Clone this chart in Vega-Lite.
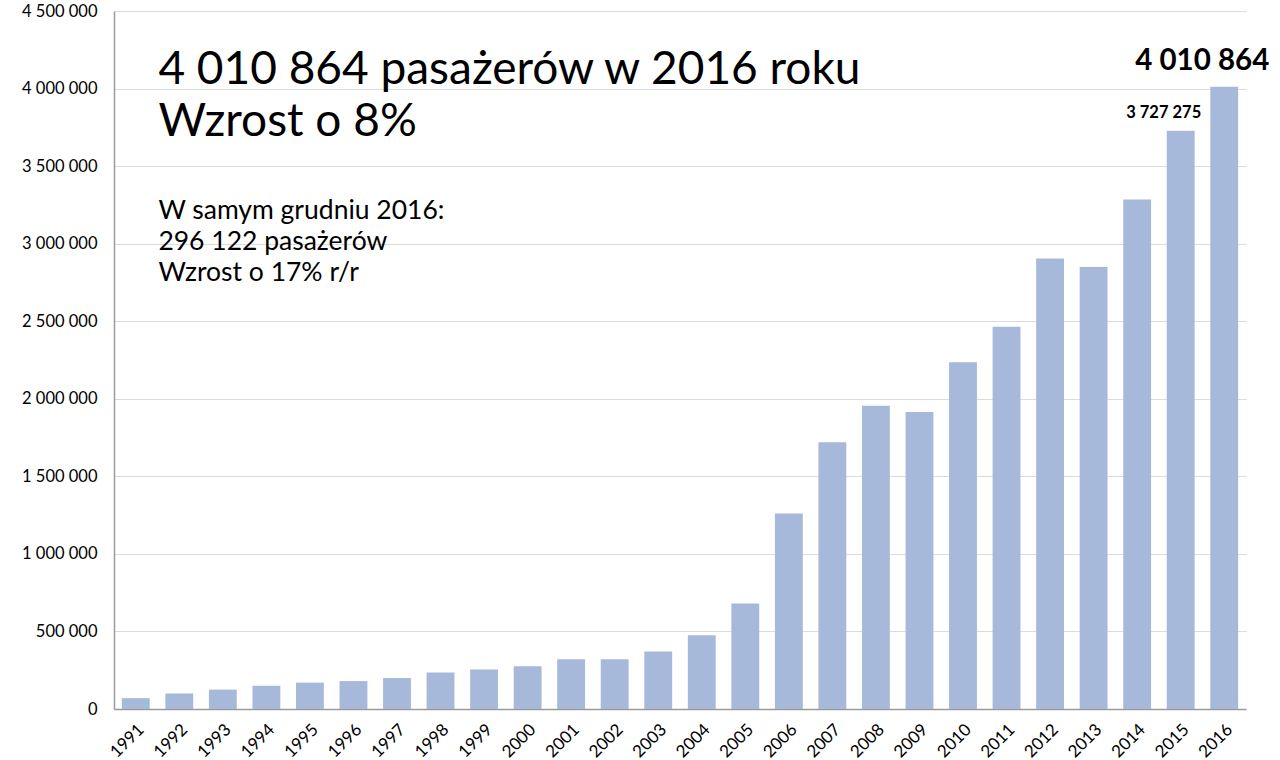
{
  "$schema": "https://vega.github.io/schema/vega-lite/v6.json",
  "width": 1132,
  "height": 698,
  "autosize": {"type": "none"},
  "padding": {"left": 114, "top": 11, "right": 34, "bottom": 51},
  "background": "white",
  "config": {
    "locale": {"number": {"decimal": ",", "thousands": " ", "grouping": [3], "currency": ["", ""]}},
    "view": {"stroke": null},
    "font": "Lato"
  },
  "datasets": {
    "traffic": [
      {"year": 1991, "passengers": 70000},
      {"year": 1992, "passengers": 100000},
      {"year": 1993, "passengers": 125000},
      {"year": 1994, "passengers": 150000},
      {"year": 1995, "passengers": 170000},
      {"year": 1996, "passengers": 180000},
      {"year": 1997, "passengers": 200000},
      {"year": 1998, "passengers": 235000},
      {"year": 1999, "passengers": 255000},
      {"year": 2000, "passengers": 275000},
      {"year": 2001, "passengers": 320000},
      {"year": 2002, "passengers": 320000},
      {"year": 2003, "passengers": 370000},
      {"year": 2004, "passengers": 475000},
      {"year": 2005, "passengers": 680000},
      {"year": 2006, "passengers": 1260000},
      {"year": 2007, "passengers": 1720000},
      {"year": 2008, "passengers": 1955000},
      {"year": 2009, "passengers": 1915000},
      {"year": 2010, "passengers": 2235000},
      {"year": 2011, "passengers": 2465000},
      {"year": 2012, "passengers": 2905000},
      {"year": 2013, "passengers": 2850000},
      {"year": 2014, "passengers": 3285000},
      {"year": 2015, "passengers": 3727275},
      {"year": 2016, "passengers": 4010864}
    ],
    "notes": [
      {"block": "headline", "year": 1992, "passengers": 4029000, "text": "4 010 864 pasażerów w 2016 roku\nWzrost o 8%"},
      {"block": "sub", "year": 1992, "passengers": 3159000, "text": "W samym grudniu 2016:\n296 122 pasażerów\nWzrost o 17% r/r"}
    ]
  },
  "layer": [
    {
      "data": {"name": "traffic"},
      "mark": {"type": "bar", "color": "#a6b9db"},
      "encoding": {
        "x": {
          "field": "year", "type": "ordinal",
          "scale": {"paddingInner": 0.36, "paddingOuter": 0.18},
          "axis": {"title": null, "labelAngle": -45, "labelFontSize": 17, "labelColor": "#000000", "ticks": false, "labelPadding": 12, "domainColor": "#9a9a9a", "domainWidth": 1.5, "grid": false}
        },
        "y": {
          "field": "passengers", "type": "quantitative",
          "scale": {"domain": [0, 4500000], "nice": false},
          "axis": {"title": null, "values": [0, 500000, 1000000, 1500000, 2000000, 2500000, 3000000, 3500000, 4000000, 4500000], "format": ",d", "labelFontSize": 16.5, "labelColor": "#000000", "ticks": false, "labelPadding": 17, "domainColor": "#9a9a9a", "domainWidth": 1.5, "gridColor": "#dcdcdc", "gridWidth": 1.2}
        }
      }
    },
    {
      "data": {"name": "traffic"},
      "transform": [{"filter": "datum.year == 2016"}],
      "mark": {"type": "text", "fontSize": 29.5, "fontWeight": "bold", "align": "center", "baseline": "alphabetic", "dx": -22, "dy": -17, "color": "#000000"},
      "encoding": {
        "x": {"field": "year", "type": "ordinal"},
        "y": {"field": "passengers", "type": "quantitative"},
        "text": {"field": "passengers", "type": "quantitative", "format": ",d"}
      }
    },
    {
      "data": {"name": "traffic"},
      "transform": [{"filter": "datum.year == 2015"}],
      "mark": {"type": "text", "fontSize": 16.5, "fontWeight": "bold", "align": "center", "baseline": "alphabetic", "dx": -17, "dy": -13, "color": "#000000"},
      "encoding": {
        "x": {"field": "year", "type": "ordinal"},
        "y": {"field": "passengers", "type": "quantitative"},
        "text": {"field": "passengers", "type": "quantitative", "format": ",d"}
      }
    },
    {
      "data": {"name": "notes"},
      "transform": [{"filter": "datum.block == 'headline'"}],
      "mark": {"type": "text", "fontSize": 46, "lineHeight": 52, "lineBreak": "\n", "align": "left", "baseline": "alphabetic", "dx": -7, "color": "#000000"},
      "encoding": {
        "x": {"field": "year", "type": "ordinal", "bandPosition": 0},
        "y": {"field": "passengers", "type": "quantitative"},
        "text": {"field": "text", "type": "nominal"}
      }
    },
    {
      "data": {"name": "notes"},
      "transform": [{"filter": "datum.block == 'sub'"}],
      "mark": {"type": "text", "fontSize": 26.5, "lineHeight": 31, "lineBreak": "\n", "align": "left", "baseline": "alphabetic", "dx": -7, "color": "#000000"},
      "encoding": {
        "x": {"field": "year", "type": "ordinal", "bandPosition": 0},
        "y": {"field": "passengers", "type": "quantitative"},
        "text": {"field": "text", "type": "nominal"}
      }
    }
  ]
}
